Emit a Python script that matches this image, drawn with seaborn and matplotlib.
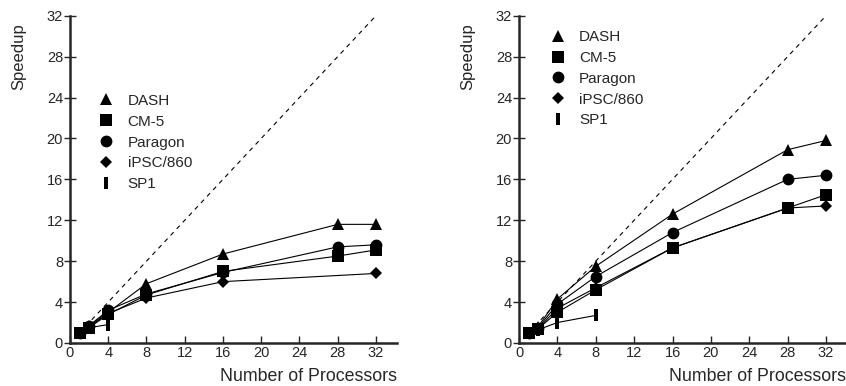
import numpy as np
import pandas as pd
import matplotlib
matplotlib.use("Agg")
import matplotlib.pyplot as plt
import seaborn as sns

sns.set_style("ticks")
plt.rcParams['font.family'] = ['Liberation Sans', 'DejaVu Sans']

machines = ['DASH', 'CM-5', 'Paragon', 'iPSC/860', 'SP1']

# left panel
left_procs = {
    'DASH':     [1, 2, 4, 8, 16, 28, 32],
    'CM-5':     [1, 2, 4, 8, 16, 28, 32],
    'Paragon':  [1, 2, 4, 8, 16, 28, 32],
    'iPSC/860': [1, 2, 4, 8, 16, 32],
    'SP1':      [1, 2, 4],
}
left_speedup = {
    'DASH':     [1, 1.7, 3.0, 5.8, 8.7, 11.6, 11.6],
    'CM-5':     [1, 1.5, 2.8, 4.7, 7.0, 8.5, 9.1],
    'Paragon':  [1, 1.7, 3.2, 4.8, 6.9, 9.4, 9.6],
    'iPSC/860': [1, 1.6, 2.9, 4.4, 6.0, 6.8],
    'SP1':      [1, 1.5, 1.8],
}

# right panel
right_procs = {
    'DASH':     [1, 2, 4, 8, 16, 28, 32],
    'CM-5':     [1, 2, 4, 8, 16, 28, 32],
    'Paragon':  [1, 2, 4, 8, 16, 28, 32],
    'iPSC/860': [1, 2, 4, 8, 16, 28, 32],
    'SP1':      [1, 2, 4, 8],
}
right_speedup = {
    'DASH':     [1, 1.6, 4.3, 7.5, 12.6, 18.9, 19.8],
    'CM-5':     [1, 1.4, 3.0, 5.2, 9.3, 13.2, 14.5],
    'Paragon':  [1, 1.5, 3.8, 6.5, 10.8, 16.0, 16.4],
    'iPSC/860': [1, 1.4, 3.4, 5.4, 9.3, 13.2, 13.4],
    'SP1':      [1, 1.3, 2.0, 2.7],
}

ideal = [1, 32]

bar = [(-0.32, -1), (0.32, -1), (0.32, 1), (-0.32, 1), (-0.32, -1)]
markers = {'DASH': '^', 'CM-5': 's', 'Paragon': 'o', 'iPSC/860': 'D', 'SP1': bar}
msizes = {'DASH': 8, 'CM-5': 8, 'Paragon': 8.5, 'iPSC/860': 6, 'SP1': 9}


def draw(ax, procs, speedup, xmax, leg_anchor):
    ax.plot(ideal, ideal, color='black', lw=0.8, ls=(0, (4, 4)))
    for m in machines:
        df = pd.DataFrame({'p': procs[m], 's': speedup[m]})
        sns.lineplot(data=df, x='p', y='s', ax=ax, color='black', lw=0.8,
                     marker=markers[m], markersize=msizes[m], markeredgewidth=0,
                     label=m)
    ax.set_xlim(0, xmax)
    ax.set_ylim(0, 32)
    ax.set_xticks(range(0, 33, 4))
    ax.set_yticks(range(0, 33, 4))
    ax.tick_params(axis='y', direction='inout', length=8, width=1, labelsize=10.5, pad=1)
    ax.tick_params(axis='x', direction='in', length=5, width=1, labelsize=10.5, pad=2)
    for s in ['top', 'right']:
        ax.spines[s].set_visible(False)
    for s in ['left', 'bottom']:
        ax.spines[s].set_linewidth(1.8)
    ax.set_ylabel('Speedup', fontsize=12)
    ax.yaxis.set_label_coords(-0.135, 0.875)
    ax.set_xlabel('Number of Processors', fontsize=12.8, ha='right')
    ax.xaxis.set_label_coords(1.0, -0.075)
    ax.legend(loc='upper left', bbox_to_anchor=leg_anchor, frameon=False,
              handlelength=0, handletextpad=1.4, fontsize=11,
              labelspacing=0.45, borderaxespad=0)


fig = plt.figure(figsize=(8.46, 3.86), dpi=100)
ax1 = fig.add_axes([70 / 846, 1 - 343 / 386, 327 / 846, 327.3 / 386])
ax2 = fig.add_axes([519 / 846, 1 - 343 / 386, 327 / 846, 327.3 / 386])

draw(ax1, left_procs, left_speedup, 34.2, (0.092, 0.78))
draw(ax2, right_procs, right_speedup, 34.08, (0.1, 0.975))

fig.savefig('out.png', dpi=100)
